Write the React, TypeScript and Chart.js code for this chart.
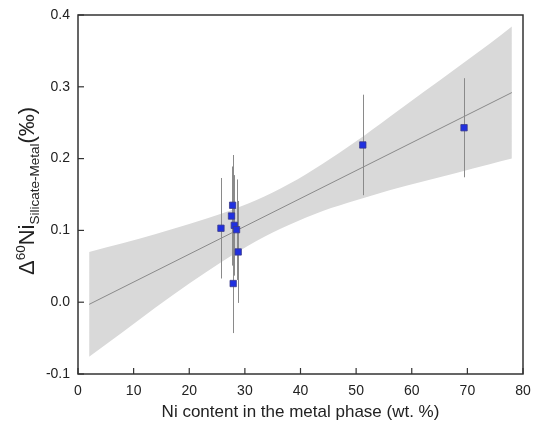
import React, { useEffect, useRef } from "react";
import { Chart, registerables } from "chart.js";

Chart.register(...registerables);

// Measured data
const niContent = [25.7, 27.6, 27.8, 28.1, 28.5, 28.8, 27.9, 51.2, 69.4];
const delta60 = [0.103, 0.12, 0.135, 0.107, 0.101, 0.07, 0.026, 0.219, 0.243];
const errors = [0.07, 0.069, 0.07, 0.07, 0.07, 0.071, 0.069, 0.07, 0.069];

// Regression line end points
const fitX = [2, 78];
const fitY = [-0.003, 0.292];

// Confidence band
const bandX = [2, 8, 14, 20, 26, 32, 38, 44, 50, 56, 62, 68, 74, 78];
const bandUpper = [0.07, 0.082, 0.095, 0.109, 0.124, 0.142, 0.165, 0.193, 0.224, 0.258, 0.292, 0.326, 0.36, 0.384];
const bandLower = [-0.076, -0.042, -0.007, 0.026, 0.057, 0.085, 0.108, 0.127, 0.142, 0.156, 0.168, 0.18, 0.192, 0.2];

// Axis ticks
const xTicks = [0, 10, 20, 30, 40, 50, 60, 70, 80];
const yTicks = [-0.1, 0.0, 0.1, 0.2, 0.3, 0.4];

const FONT = "'Liberation Sans', Arial, sans-serif";
const TEXT = "#222";
const AXIS = "#333";

const framePlugin = {
  id: "frameTicks",
  beforeDatasetDraw(chart: any, args: any) {
    if (args.index !== 3) return;
    const ctx = chart.ctx;
    const xs = chart.scales.x;
    const ys = chart.scales.y;
    ctx.save();
    ctx.strokeStyle = "#8a8a8a";
    ctx.lineWidth = 1;
    for (let i = 0; i < niContent.length; i++) {
      const px = Math.round(xs.getPixelForValue(niContent[i])) + 0.5;
      ctx.beginPath();
      ctx.moveTo(px, ys.getPixelForValue(delta60[i] + errors[i]));
      ctx.lineTo(px, ys.getPixelForValue(delta60[i] - errors[i]));
      ctx.stroke();
    }
    ctx.restore();
  },
  afterDraw(chart: any) {
    const ctx = chart.ctx;
    const a = chart.chartArea;
    const xs = chart.scales.x;
    const ys = chart.scales.y;
    ctx.save();
    ctx.strokeStyle = AXIS;
    ctx.lineWidth = 1.5;
    ctx.strokeRect(a.left, a.top, a.right - a.left, a.bottom - a.top);
    ctx.lineWidth = 1.2;
    const tl = 6;
    xTicks.forEach((v) => {
      const px = xs.getPixelForValue(v);
      ctx.beginPath();
      ctx.moveTo(px, a.bottom);
      ctx.lineTo(px, a.bottom - tl);
      ctx.stroke();
    });
    yTicks.forEach((v) => {
      const py = ys.getPixelForValue(v);
      ctx.beginPath();
      ctx.moveTo(a.left, py);
      ctx.lineTo(a.left + tl, py);
      ctx.stroke();
    });

    // Y axis title with super/subscripts
    ctx.translate(34, 275);
    ctx.rotate(-Math.PI / 2);
    ctx.fillStyle = TEXT;
    ctx.textBaseline = "alphabetic";
    ctx.textAlign = "left";
    let x = 0;
    const part = (t: string, size: number, dy: number) => {
      ctx.font = `${size}px ${FONT}`;
      ctx.fillText(t, x, dy);
      x += ctx.measureText(t).width;
    };
    part("\u0394", 22, 0);
    part("60", 13.5, -9);
    part("Ni", 22, 0);
    part("Silicate-Metal", 13.5, 5);
    part("(\u2030)", 22, 0);
    ctx.restore();
  },
};

export default function App() {
  const ref = useRef<HTMLCanvasElement>(null);
  useEffect(() => {
    if (!ref.current) return;
    const chart = new Chart(ref.current, {
      type: "scatter",
      data: {
        datasets: [
          {
            type: "line",
            data: bandX.map((x, i) => ({ x, y: bandUpper[i] })),
            borderWidth: 0,
            pointRadius: 0,
            backgroundColor: "#d9d9d9",
            fill: "+1",
            cubicInterpolationMode: "monotone",
            order: 4,
          } as any,
          {
            type: "line",
            data: bandX.map((x, i) => ({ x, y: bandLower[i] })),
            borderWidth: 0,
            pointRadius: 0,
            fill: false,
            cubicInterpolationMode: "monotone",
            order: 3,
          } as any,
          {
            type: "line",
            data: fitX.map((x, i) => ({ x, y: fitY[i] })),
            borderColor: "#8a8a8a",
            borderWidth: 1,
            pointRadius: 0,
            fill: false,
            order: 2,
          } as any,
          {
            type: "scatter",
            data: niContent.map((x, i) => ({ x, y: delta60[i] })),
            pointStyle: "rect",
            pointRadius: 4.5,
            backgroundColor: "#2030e0",
            borderColor: "#3a3a8a",
            borderWidth: 0.8,
            order: 1,
          } as any,
        ],
      },
      options: {
        animation: false,
        responsive: false,
        layout: { padding: { left: 0, top: 15, right: 14, bottom: 0 } },
        plugins: { legend: { display: false }, tooltip: { enabled: false } },
        scales: {
          x: {
            type: "linear",
            min: 0,
            max: 80,
            grid: { display: false, drawTicks: false },
            border: { display: false },
            afterBuildTicks: (s: any) => {
              s.ticks = xTicks.map((v) => ({ value: v }));
            },
            afterFit: (s: any) => {
              s.height = 54;
              s.paddingLeft = 0;
              s.paddingRight = 0;
            },
            ticks: {
              padding: 9,
              color: TEXT,
              font: { family: FONT, size: 14 },
              maxRotation: 0,
            },
            title: {
              display: true,
              text: "Ni content in the metal phase (wt. %)",
              color: TEXT,
              font: { family: FONT, size: 17 },
              padding: { top: 0, bottom: 5 },
            },
          },
          y: {
            type: "linear",
            min: -0.1,
            max: 0.4,
            grid: { display: false, drawTicks: false },
            border: { display: false },
            afterBuildTicks: (s: any) => {
              s.ticks = yTicks.map((v) => ({ value: v }));
            },
            afterFit: (s: any) => {
              s.width = 78;
              s.paddingTop = 0;
              s.paddingBottom = 0;
            },
            ticks: {
              padding: 8,
              color: TEXT,
              font: { family: FONT, size: 14 },
              callback: (v: any) => Number(v).toFixed(1),
            },
          },
        },
      },
      plugins: [framePlugin],
    });
    return () => chart.destroy();
  }, []);
  return (
    <div style={{ position: "fixed", left: 0, top: 0, width: 537, height: 428, background: "#fff" }}>
      <canvas ref={ref} width={537} height={428} style={{ width: 537, height: 428 }} />
    </div>
  );
}
